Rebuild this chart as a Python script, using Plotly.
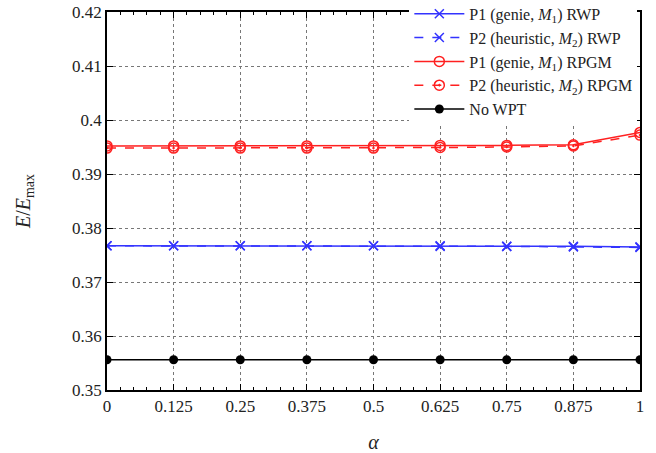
import plotly.graph_objects as go

alpha = [0, 0.125, 0.25, 0.375, 0.5, 0.625, 0.75, 0.875, 1]
alpha_labels = ["0", "0.125", "0.25", "0.375", "0.5", "0.625", "0.75", "0.875", "1"]

p1_rwp = [0.3767, 0.3767, 0.3767, 0.3767, 0.3767, 0.3767, 0.3766, 0.3766, 0.3765]
p2_rwp = [0.3767, 0.3767, 0.3767, 0.3767, 0.3767, 0.3766, 0.3766, 0.3765, 0.3764]
p1_rpgm = [0.3952, 0.3952, 0.3952, 0.3952, 0.3952, 0.3953, 0.3953, 0.3954, 0.3977]
p2_rpgm = [0.3948, 0.3948, 0.3948, 0.3948, 0.3948, 0.3949, 0.3950, 0.3952, 0.3972]
no_wpt = [0.3556, 0.3556, 0.3556, 0.3556, 0.3556, 0.3556, 0.3556, 0.3556, 0.3556]

y_ticks = [0.35, 0.36, 0.37, 0.38, 0.39, 0.40, 0.41, 0.42]
y_labels = ["0.35", "0.36", "0.37", "0.38", "0.39", "0.4", "0.41", "0.42"]

BLUE = "#3333ff"
RED = "#ff2020"
FONT = "Liberation Serif, Times New Roman, serif"

fig = go.Figure()
fig.add_trace(go.Scatter(x=alpha, y=p1_rwp, mode="lines+markers",
                         name="P1 (genie, <i>M</i><sub>1</sub>) RWP",
                         line=dict(color=BLUE, width=1.5),
                         marker=dict(symbol="x-thin-open", size=9, color=BLUE,
                                     line=dict(color=BLUE, width=1.5))))
fig.add_trace(go.Scatter(x=alpha, y=p2_rwp, mode="lines+markers",
                         name="P2 (heuristic, <i>M</i><sub>2</sub>) RWP",
                         line=dict(color=BLUE, width=1.5, dash="dash"),
                         marker=dict(symbol="x-thin-open", size=9, color=BLUE,
                                     line=dict(color=BLUE, width=1.5))))
fig.add_trace(go.Scatter(x=alpha, y=p1_rpgm, mode="lines+markers",
                         name="P1 (genie, <i>M</i><sub>1</sub>) RPGM",
                         line=dict(color=RED, width=1.5),
                         marker=dict(symbol="circle-open", size=10, color=RED,
                                     line=dict(color=RED, width=1.5))))
fig.add_trace(go.Scatter(x=alpha, y=p2_rpgm, mode="lines+markers",
                         name="P2 (heuristic, <i>M</i><sub>2</sub>) RPGM",
                         line=dict(color=RED, width=1.5, dash="dash"),
                         marker=dict(symbol="circle-open-dot", size=10, color=RED,
                                     line=dict(color=RED, width=1.5))))
fig.add_trace(go.Scatter(x=alpha, y=no_wpt, mode="lines+markers",
                         name="No WPT",
                         line=dict(color="black", width=1.5),
                         marker=dict(symbol="circle", size=9, color="black")))

fig.update_layout(
    width=656, height=453,
    margin=dict(l=107, r=16, t=12, b=63, autoexpand=False),
    paper_bgcolor="white", plot_bgcolor="white",
    font=dict(family=FONT, size=17, color="#222"),
    showlegend=True,
    legend=dict(x=0.995, y=1.04, xanchor="right", yanchor="top",
                bgcolor="white", borderwidth=0,
                font=dict(family=FONT, size=16, color="#222"),
                tracegroupgap=0, itemwidth=50),
)
fig.update_xaxes(
    range=[0, 1], tickmode="array", tickvals=alpha, ticktext=alpha_labels,
    showline=True, linecolor="black", linewidth=1.5, mirror="allticks",
    ticks="inside", ticklen=6, tickcolor="black",
    minor=dict(dtick=0.025, ticks="inside", ticklen=3, tickcolor="black", showgrid=False),
    showgrid=True, gridcolor="#777", griddash="dot", gridwidth=1,
    zeroline=False, automargin=False, ticklabeloverflow="allow",
    title=dict(text="<i>α</i>", font=dict(family=FONT, size=20), standoff=22),
    tickfont=dict(family=FONT, size=17),
)
fig.update_yaxes(
    range=[0.35, 0.42], tickmode="array", tickvals=y_ticks, ticktext=y_labels,
    showline=True, linecolor="black", linewidth=1.5, mirror="allticks",
    ticks="inside", ticklen=6, tickcolor="black",
    showgrid=True, gridcolor="#777", griddash="dot", gridwidth=1,
    zeroline=False, automargin=False, ticklabeloverflow="allow",
    title=dict(text="<i>E</i>/<i>E</i><sub>max</sub>", font=dict(family=FONT, size=20), standoff=36),
    tickfont=dict(family=FONT, size=17),
)

# remove the browser's default 8px body margin so the figure fills the window
fig.write_html("out.html",
               config={"displayModeBar": False},
               post_script="document.body.style.margin='0';document.body.style.overflow='hidden';")
